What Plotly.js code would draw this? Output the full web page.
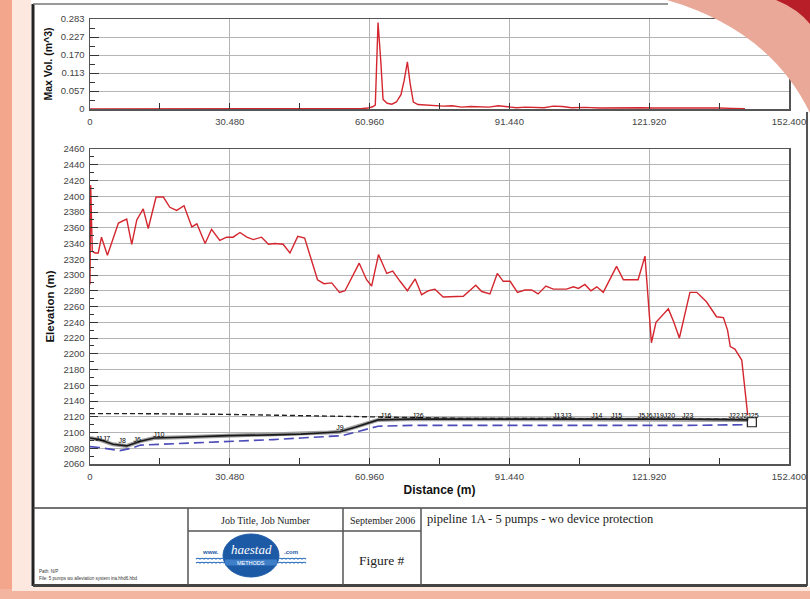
<!DOCTYPE html>
<html>
<head>
<meta charset="utf-8">
<script src="https://cdn.plot.ly/plotly-3.0.1.min.js"></script>
<style>html,body{margin:0;padding:0;background:#fff;}#chart{width:810px;height:599px;}</style>
</head>
<body>
<div id="chart"></div>
<script>
// ---------- data ----------
const distTickVals = [0, 30.48, 60.96, 91.44, 121.92, 152.4];
const distTickText = ["0", "30.480", "60.960", "91.440", "121.920", "152.400"];
const distMinorTicks = [15.24, 45.72, 76.2, 106.68, 137.16];

const volTickVals = [0, 0.0566, 0.1132, 0.1698, 0.2264, 0.283];
const volTickText = ["0", "0.057", "0.113", "0.170", "0.227", "0.283"];
const volMinorTicks = [0.0283, 0.0849, 0.1415, 0.1981, 0.2547];

const volX = [0, 20, 40, 55, 59, 60.6, 61.6, 62.2, 62.8, 63.4, 63.9, 64.8, 65.8, 66.8, 67.8, 68.5, 69.2, 69.8, 70.5, 71.5, 73, 75, 77, 79, 81, 83, 85, 87, 89, 91, 93, 95, 97, 99, 101, 103, 105, 108, 111, 114, 117, 120, 123, 126, 129, 131, 134, 137, 140, 142.8];
const volY = [0, 0, 0, 0.0005, 0.001, 0.003, 0.007, 0.012, 0.272, 0.15, 0.03, 0.018, 0.015, 0.022, 0.045, 0.09, 0.148, 0.08, 0.022, 0.014, 0.012, 0.011, 0.009, 0.01, 0.006, 0.008, 0.007, 0.006, 0.01, 0.008, 0.004, 0.006, 0.005, 0.004, 0.009, 0.008, 0.004, 0.005, 0.003, 0.004, 0.003, 0.004, 0.003, 0.003, 0.005, 0.005, 0.003, 0.003, 0.002, 0.001];

const maxHglX = [0, 0.15, 0.5, 1.1, 1.8, 2.5, 3.8, 6.2, 8.0, 9.1, 10.2, 11.6, 12.7, 14.4, 16.0, 17.4, 18.9, 20.5, 22.2, 23.3, 25.1, 26.5, 28.3, 29.8, 31.2, 32.7, 34.2, 35.6, 37.4, 38.9, 40.3, 42.1, 43.6, 45.3, 46.8, 48.2, 49.6, 51.0, 52.7, 54.4, 55.6, 58.7, 60.3, 61.4, 62.9, 64.7, 66.0, 67.6, 69.2, 70.9, 72.3, 73.8, 75.2, 77.0, 81.4, 84.1, 85.4, 87.2, 88.8, 90.1, 91.6, 93.2, 94.8, 96.3, 97.7, 99.4, 101.0, 103.9, 105.4, 106.5, 107.9, 109.2, 110.5, 111.9, 114.8, 116.3, 119.5, 121.0, 122.4, 123.4, 126.1, 127.3, 128.5, 130.8, 132.3, 134.4, 136.6, 138.1, 139.0, 139.6, 140.6, 142.1, 143.4];
const maxHglY = [2288, 2414, 2330, 2328, 2328, 2348, 2325, 2366, 2371, 2339, 2370, 2384, 2359, 2399, 2399, 2386, 2382, 2388, 2361, 2365, 2340, 2358, 2344, 2348, 2348, 2354, 2348, 2345, 2348, 2339, 2340, 2339, 2328, 2349, 2347, 2322, 2294, 2289, 2290, 2278, 2280, 2315, 2294, 2286, 2326, 2302, 2305, 2292, 2280, 2295, 2275, 2280, 2282, 2272, 2273, 2287, 2279, 2276, 2302, 2292, 2292, 2278, 2281, 2281, 2276, 2286, 2282, 2282, 2285, 2283, 2288, 2280, 2285, 2278, 2311, 2294, 2294, 2324, 2214, 2240, 2257, 2240, 2220, 2278, 2278, 2266, 2247, 2246, 2230, 2209, 2206, 2192, 2122];

const initHglX = [0, 10, 30, 50, 63, 80, 100, 120, 143.5];
const initHglY = [2124, 2124, 2123, 2121, 2119, 2118, 2118, 2117, 2117];

const pipeX = [0, 2, 5, 8, 11, 14, 20, 30, 40, 46, 52, 54.5, 58, 62.8, 70, 90, 110, 130, 143.5];
const pipeY = [2093, 2091, 2085, 2083, 2089, 2093, 2094, 2096, 2097, 2098, 2100, 2101, 2107, 2116, 2117, 2117, 2117, 2117, 2116];

const minHglX = [0, 2, 6.5, 9, 11, 20, 30, 40, 46, 52, 55, 62.8, 70, 90, 110, 130, 143.5];
const minHglY = [2082, 2081, 2077, 2080, 2084, 2086, 2088, 2091, 2093, 2095, 2096, 2108, 2109, 2109, 2109, 2109, 2110];

const nodeNames = ["J1J7", "J8", "J6", "J10", "J9", "J16", "J26", "J13J3", "J14", "J15", "J5J6J19J20", "J23", "J22J2J25"];
const nodeX = [2.8, 7, 10.3, 15, 54.5, 64.5, 71.5, 103, 110.5, 114.8, 123.5, 130.3, 142.5];
const nodeY = [2092, 2089, 2090, 2096, 2105, 2121, 2121, 2121, 2121, 2121, 2121, 2121, 2121];

const reservoirX = [144.3];
const reservoirY = [2113];

// ---------- helpers (layout only) ----------
const W = 810, H = 599;
const X = v => v / W;
const Y = v => 1 - v / H;
const P = (x, y) => X(x).toFixed(5) + ',' + Y(y).toFixed(5);
function line(x0, y0, x1, y1, color, width, layer) {
  return {type: 'line', xref: 'paper', yref: 'paper', x0: X(x0), y0: Y(y0), x1: X(x1), y1: Y(y1),
          line: {color: color, width: width}, layer: layer || 'above'};
}
function rect(x0, y0, x1, y1, fill, layer) {
  return {type: 'rect', xref: 'paper', yref: 'paper', x0: X(x0), y0: Y(y0), x1: X(x1), y1: Y(y1),
          line: {width: 0}, fillcolor: fill, layer: layer || 'below'};
}
function ann(text, x, y, size, opts) {
  return Object.assign({text: text, xref: 'paper', yref: 'paper', x: X(x), y: Y(y), showarrow: false,
    font: {family: 'Liberation Serif', size: size, color: '#222'}, xanchor: 'center', yanchor: 'middle'}, opts || {});
}

const red = '#d4262e';
const tickFont = {family: 'Liberation Sans', size: 9.5, color: '#444'};
const xDom = [X(90), X(789)];

const baseX = {
  range: [0, 152.4], tickmode: 'array', tickvals: distTickVals, ticktext: distTickText,
  ticks: 'inside', ticklen: 6, tickcolor: '#333', tickwidth: 1, ticklabelstandoff: 3,
  minor: {tickmode: 'array', tickvals: distMinorTicks, ticks: 'inside', ticklen: 6, tickcolor: '#333', showgrid: false},
  showgrid: true, gridcolor: '#b5b5b5', gridwidth: 1,
  showline: true, mirror: true, linecolor: '#555', linewidth: 1.5,
  zeroline: false, tickfont: tickFont, domain: xDom, fixedrange: true
};

const traces = [
  {x: volX, y: volY, xaxis: 'x', yaxis: 'y', type: 'scatter', mode: 'lines',
   line: {color: red, width: 1.4}, hoverinfo: 'skip'},
  {x: minHglX, y: minHglY, xaxis: 'x2', yaxis: 'y2', type: 'scatter', mode: 'lines',
   line: {color: '#4a4ab8', width: 1.6, dash: '10px,5px'}, hoverinfo: 'skip'},
  {x: pipeX, y: pipeY, xaxis: 'x2', yaxis: 'y2', type: 'scatter', mode: 'lines',
   line: {color: '#a0a0a0', width: 4}, hoverinfo: 'skip'},
  {x: pipeX, y: pipeY, xaxis: 'x2', yaxis: 'y2', type: 'scatter', mode: 'lines',
   line: {color: '#1a1a1a', width: 1.6}, hoverinfo: 'skip'},
  {x: initHglX, y: initHglY, xaxis: 'x2', yaxis: 'y2', type: 'scatter', mode: 'lines',
   line: {color: '#222', width: 1.4, dash: '5px,3px'}, hoverinfo: 'skip'},
  {x: maxHglX, y: maxHglY, xaxis: 'x2', yaxis: 'y2', type: 'scatter', mode: 'lines',
   line: {color: red, width: 1.4}, hoverinfo: 'skip'},
  {x: nodeX, y: nodeY, text: nodeNames, xaxis: 'x2', yaxis: 'y2', type: 'scatter', mode: 'text',
   textfont: {family: 'Liberation Sans', size: 7, color: '#000000'}, textposition: 'middle center', hoverinfo: 'skip'},
  {x: reservoirX, y: reservoirY, xaxis: 'x2', yaxis: 'y2', type: 'scatter', mode: 'markers',
   marker: {symbol: 'square-open', size: 9, color: '#222', line: {width: 1.2}}, hoverinfo: 'skip'}
];

// logo waves
function wave(x0, x1, y) {
  let d = 'M' + P(x0, y);
  const step = 4;
  for (let x = x0; x < x1; x += step) {
    d += ' Q' + P(x + step / 2, y - 1.5) + ' ' + P(x + step, y);
  }
  return {type: 'path', xref: 'paper', yref: 'paper', path: d, line: {color: '#2a6fc0', width: 1.2}, layer: 'above'};
}

const shapes = [
  // background surroundings
  rect(0, 0, 12, 599, '#f3a68c'),
  rect(12, 0, 31, 599, '#fce8df'),
  rect(0, 589, 810, 599, '#f3b4a0'),
  rect(12, 587, 810, 591, '#fce8df'),
  // swoosh (drawn over the page)
  {type: 'path', xref: 'paper', yref: 'paper', layer: 'above', line: {width: 0}, fillcolor: '#e9a898',
   path: 'M' + P(667, 0) + ' Q' + P(770, 30) + ' ' + P(810, 113) + ' L' + P(810, 0) + ' Z'},
  {type: 'path', xref: 'paper', yref: 'paper', layer: 'above', line: {width: 0}, fillcolor: '#b81e28',
   path: 'M' + P(776, 0) + ' Q' + P(798, 9) + ' ' + P(810, 24) + ' L' + P(810, 0) + ' Z'},
  // page frame
  line(33, 4, 33, 586, '#222', 3),
  line(33, 4, 668, 4, '#777', 1.5),
  line(807, 112, 807, 586, '#555', 2),
  line(33, 585.5, 807, 585.5, '#444', 3),
  // title block
  line(33, 508, 807, 508, '#444', 1.5),
  line(188, 508, 188, 585, '#555', 1.5),
  line(343, 508, 343, 585, '#555', 1.5),
  line(421, 508, 421, 585, '#555', 1.5),
  line(188, 531, 421, 531, '#555', 1.5),
  // logo
  {type: 'circle', xref: 'paper', yref: 'paper', x0: X(223), x1: X(279), y0: Y(577), y1: Y(534),
   fillcolor: '#1d5aa6', line: {color: '#1d5aa6', width: 1}, layer: 'above'},
  rect(225, 559.5, 277, 565.5, '#3f7fc8', 'above'),
  wave(196, 224, 559), wave(196, 224, 563),
  wave(278, 306, 559), wave(278, 306, 563)
];

const annotations = [
  ann('Job Title, Job Number', 265.5, 520, 10),
  ann('September 2006', 382, 520, 10),
  ann('pipeline 1A - 5 pumps - wo device protection', 425, 519, 12.5, {xanchor: 'left'}),
  ann('Figure #', 382, 560, 13.5),
  ann('Path: N/P', 37, 571.5, 4.5, {xanchor: 'left', font: {family: 'Liberation Sans', size: 4.5, color: '#333'}}),
  ann('File: 5 pumps wo alleviation system ina.hhd6.hbd', 37, 578, 4.5, {xanchor: 'left', font: {family: 'Liberation Sans', size: 4.5, color: '#333'}}),
  ann('<i>haestad</i>', 251, 549, 13, {font: {family: 'Liberation Serif', size: 13, color: '#ffffff'}}),
  ann('METHODS', 251, 562.5, 5.5, {font: {family: 'Liberation Sans', size: 5.5, color: '#ffffff'}}),
  ann('<b>www.</b>', 210, 552, 6, {font: {family: 'Liberation Sans', size: 6, color: '#1d5aa6'}}),
  ann('<b>.com</b>', 291, 552, 6, {font: {family: 'Liberation Sans', size: 6, color: '#1d5aa6'}})
];

const layout = {
  width: W, height: H, autosize: false,
  margin: {l: 0, r: 0, t: 0, b: 0, pad: 0},
  paper_bgcolor: '#ffffff', plot_bgcolor: '#ffffff',
  showlegend: false,
  xaxis: Object.assign({}, baseX, {anchor: 'y'}),
  yaxis: {
    domain: [Y(109), Y(19)], range: [0, 0.283], anchor: 'x',
    tickmode: 'array', tickvals: volTickVals, ticktext: volTickText,
    ticks: 'inside', ticklen: 9, tickcolor: '#333', ticklabelstandoff: 2,
    minor: {tickmode: 'array', tickvals: volMinorTicks, ticks: 'inside', ticklen: 5, tickcolor: '#333', showgrid: false},
    showgrid: true, gridcolor: '#b5b5b5', showline: true, mirror: true, linecolor: '#555', linewidth: 1.5,
    zeroline: false, tickfont: tickFont, fixedrange: true,
    title: {text: '<b>Max Vol. (m^3)</b>', font: {family: 'Liberation Sans', size: 10.5, color: '#111'}, standoff: 6}
  },
  xaxis2: Object.assign({}, baseX, {anchor: 'y2',
    title: {text: '<b>Distance (m)</b>', font: {family: 'Liberation Sans', size: 12, color: '#111'}, standoff: 4}}),
  yaxis2: {
    domain: [Y(464), Y(149)], range: [2060, 2460], anchor: 'x2',
    tickmode: 'linear', tick0: 2060, dtick: 20,
    ticks: 'inside', ticklen: 8, tickcolor: '#333', ticklabelstandoff: 2,
    minor: {dtick: 10, ticks: 'inside', ticklen: 4, tickcolor: '#333', showgrid: false},
    showgrid: true, gridcolor: '#b5b5b5', showline: true, mirror: true, linecolor: '#555', linewidth: 1.5,
    zeroline: false, tickfont: tickFont, fixedrange: true,
    title: {text: '<b>Elevation (m)</b>', font: {family: 'Liberation Sans', size: 11.5, color: '#111'}, standoff: 6}
  },
  shapes: shapes,
  annotations: annotations
};

Plotly.newPlot('chart', traces, layout, {displayModeBar: false, staticPlot: true});
</script>
</body>
</html>
